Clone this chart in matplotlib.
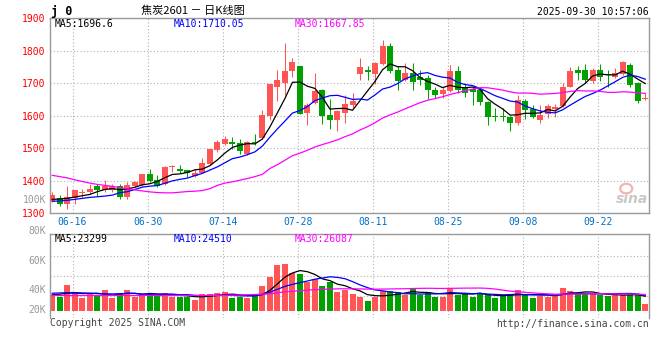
import numpy as np
import pandas as pd
import matplotlib
matplotlib.use('Agg')
import matplotlib.pyplot as plt
from matplotlib.patches import Ellipse

# ---------------- data ----------------
dates = list(pd.bdate_range('2025-06-11', '2025-09-30').strftime('%m-%d'))
tick_labels = ['06-16', '06-30', '07-14', '07-28', '08-11', '08-25', '09-08', '09-22']

opens = [1338, 1345, 1329, 1345, 1361, 1366, 1383, 1371, 1371, 1383,
         1348, 1383, 1386, 1420, 1402, 1389, 1441, 1436, 1432, 1415,
         1424, 1451, 1494, 1512, 1519, 1515, 1482, 1518, 1530, 1597,
         1687, 1701, 1738, 1751, 1609, 1640, 1679, 1602, 1585, 1609,
         1632, 1727, 1741, 1728, 1758, 1814, 1740, 1708, 1730, 1720,
         1715, 1679, 1667, 1674, 1737, 1684, 1681, 1679, 1640, 1599,
         1599, 1594, 1578, 1645, 1620, 1587, 1606, 1620, 1628, 1689,
         1741, 1740, 1705, 1741, 1728, 1720, 1728, 1756, 1701, 1650]
highs = [1364, 1355, 1384, 1372, 1373, 1389, 1389, 1402, 1389, 1389,
         1395, 1398, 1421, 1436, 1417, 1445, 1448, 1448, 1432, 1436,
         1468, 1498, 1525, 1536, 1533, 1527, 1521, 1543, 1617, 1698,
         1739, 1822, 1778, 1752, 1640, 1730, 1681, 1650, 1617, 1664,
         1669, 1776, 1753, 1765, 1833, 1823, 1751, 1761, 1761, 1740,
         1725, 1689, 1687, 1756, 1751, 1700, 1687, 1684, 1646, 1622,
         1622, 1599, 1664, 1650, 1633, 1633, 1636, 1636, 1701, 1749,
         1751, 1758, 1745, 1758, 1741, 1746, 1769, 1761, 1702, 1669]
lows = [1333, 1322, 1311, 1327, 1350, 1358, 1352, 1366, 1366, 1342,
        1342, 1380, 1384, 1396, 1381, 1386, 1425, 1422, 1410, 1412,
        1422, 1448, 1489, 1509, 1498, 1482, 1480, 1509, 1527, 1585,
        1646, 1664, 1720, 1604, 1571, 1636, 1574, 1558, 1551, 1576,
        1622, 1710, 1710, 1697, 1756, 1730, 1677, 1705, 1679, 1694,
        1650, 1653, 1653, 1671, 1669, 1658, 1633, 1633, 1571, 1584,
        1584, 1551, 1571, 1589, 1592, 1576, 1592, 1596, 1626, 1687,
        1708, 1700, 1701, 1705, 1689, 1715, 1725, 1689, 1640, 1649]
closes = [1355, 1328, 1349, 1370, 1364, 1374, 1371, 1383, 1383, 1348,
          1386, 1396, 1420, 1400, 1384, 1443, 1446, 1429, 1422, 1424,
          1455, 1498, 1518, 1527, 1511, 1492, 1519, 1515, 1602, 1697,
          1710, 1738, 1764, 1605, 1633, 1676, 1599, 1585, 1614, 1636,
          1646, 1748, 1733, 1763, 1814, 1736, 1705, 1732, 1703, 1708,
          1677, 1662, 1679, 1738, 1679, 1669, 1673, 1643, 1594, 1595,
          1596, 1578, 1648, 1617, 1595, 1602, 1630, 1626, 1689, 1738,
          1732, 1708, 1741, 1720, 1724, 1732, 1764, 1694, 1646, 1655]
volumes = [25300, 22600, 41100, 28000, 21000, 26400, 23700, 33200, 21000, 28900,
           33200, 22600, 26900, 26900, 24200, 28000, 22600, 22600, 22600, 17400,
           26900, 26900, 28400, 30000, 21000, 21600, 21000, 26900, 39500, 54200,
           72700, 74200, 59600, 58500, 45300, 50600, 39500, 45800, 30500, 33200,
           26900, 22600, 15800, 22600, 31600, 31600, 30500, 25300, 34800, 25300,
           30500, 22600, 22600, 36800, 25300, 27300, 22600, 28900, 25300, 20100,
           24200, 25300, 33200, 26400, 21000, 24200, 22600, 26900, 36800, 31600,
           26400, 28900, 26400, 25300, 24200, 24800, 24800, 28400, 26900, 11400]

# moving-average values before enough history exists
ma5_head = [1342, 1343, 1345, 1349]
ma10_head = [1336, 1337, 1339, 1342, 1345, 1348, 1350, 1352, 1355]
ma30_head = [1416, 1412, 1408, 1402, 1397, 1392, 1388, 1385, 1382, 1378,
             1375, 1371, 1368, 1365, 1363, 1362, 1362, 1364, 1366, 1367,
             1369, 1375, 1385, 1392, 1396, 1401, 1406, 1412, 1419]
vma5_head = [25500, 26500, 28000, 28500]
vma10_head = [28000, 28500, 29000, 29000, 28500, 28000, 27500, 27200, 27000]
vma30_head = [24500] * 23 + [24700, 25000, 25300, 25700, 26100, 26600]

price_ticks = [1300, 1400, 1500, 1600, 1700, 1800, 1900]
vol_tick_labels = ['20K', '40K', '60K', '80K', '100K']
ma_legend = ['MA5:1696.6', 'MA10:1710.05', 'MA30:1667.85']
vma_legend = ['MA5:23299', 'MA10:24510', 'MA30:26087']

# ---------------- helpers ----------------
def moving(values, n, head):
    s = pd.Series(values, dtype=float).rolling(n).mean().to_numpy()
    s[:len(head)] = head
    return s

RED = '#ff5555'
GREEN = '#00a000'
GRID = '#b0b0b0'
SPINE = '#999999'
MONO = 'DejaVu Sans Mono'
ma_colors = ['#000000', '#0000ff', '#ff00ff']

x = np.arange(len(closes))
o = np.array(opens, float); c = np.array(closes, float)
h = np.array(highs, float); l = np.array(lows, float)
up = c >= o
cols = np.where(up, RED, GREEN)
vol = np.array(volumes, float)

W, H = 660, 360
fig = plt.figure(figsize=(6.6, 3.6), dpi=100)
fig.patch.set_facecolor('white')
ax = fig.add_axes([50 / W, (H - 213) / H, 599 / W, 195 / H])
axv = fig.add_axes([50 / W, (H - 318) / H, 599 / W, 84 / H])

tick_idx = [dates.index(t) for t in tick_labels]
grid_x = [i - 0.3 for i in tick_idx]

for a in (ax, axv):
    a.set_xlim(-0.3, 79.5)
    for s in a.spines.values():
        s.set_color(SPINE)
        s.set_linewidth(1.0)
    a.tick_params(length=0)
    for gx in grid_x:
        a.axvline(gx, color=GRID, lw=0.8, ls=(0, (1, 2)), zorder=0)
axv.spines['bottom'].set_visible(False)

# ---------------- price panel ----------------
ax.set_ylim(1300, 1900)
for p in price_ticks[1:-1]:
    ax.axhline(p, color=GRID, lw=0.8, ls=(0, (1, 2)), zorder=0)
ax.vlines(x, l, h, colors=cols, lw=0.75, zorder=2)
body = np.maximum(np.abs(c - o), 1.5)
ax.bar(x, body, bottom=np.minimum(o, c), width=0.8, color=cols, lw=0, zorder=3)

for n, head, col in zip((5, 10, 30), (ma5_head, ma10_head, ma30_head), ma_colors):
    ax.plot(x, moving(closes, n, head), color=col, lw=0.9, zorder=4)

ax.set_yticks(price_ticks)
ax.set_yticklabels([str(p) for p in price_ticks], color='#ff0000',
                   fontsize=7, family=MONO)
ax.set_xticks(grid_x)
ax.set_xticklabels(tick_labels, color='#0070c8', fontsize=7, family=MONO)
ax.tick_params(axis='x', pad=3)
ax.tick_params(axis='y', pad=3)

for txt, col, xp in zip(ma_legend, ma_colors, (55, 174, 295)):
    ax.text((xp - 50) / 599, (213 - 24) / 195, txt, transform=ax.transAxes,
            color=col, fontsize=7, family=MONO, va='center', ha='left')

# sina watermark
ax.text(0.998, 0.035, 'sina', transform=ax.transAxes, ha='right', va='bottom',
        fontsize=10, style='italic', weight='bold', color='#c8c8c8', zorder=1)
ax.add_patch(Ellipse((0.962, 0.125), 0.02, 0.05, transform=ax.transAxes,
                     fc='none', ec='#f2b4b4', lw=1.6, zorder=1))

# ---------------- volume panel ----------------
axv.set_ylim(-11060, 121600)
axv.set_yticks([])
axv.set_xticks([])
for f in (0.262, 0.5, 0.738):
    axv.plot([0, 1], [f, f], transform=axv.transAxes, color=GRID, lw=0.8,
             ls=(0, (1, 2)), zorder=0)
axv.bar(x, vol, bottom=0, width=0.8, color=cols, lw=0, zorder=2)
for n, head, col in zip((5, 10, 30), (vma5_head, vma10_head, vma30_head), ma_colors):
    axv.plot(x, moving(volumes, n, head), color=col, lw=0.9, zorder=3)

for lab, f in zip(vol_tick_labels, (0.095, 0.333, 0.679, 1.036, 1.405)):
    axv.text(-0.0067, f, lab, transform=axv.transAxes, ha='right', va='center',
             color='#999999', fontsize=7, family=MONO, clip_on=False)

for txt, col, xp in zip(vma_legend, ma_colors, (55, 174, 295)):
    axv.text((xp - 50) / 599, (318 - 238.5) / 84, txt, transform=axv.transAxes,
             color=col, fontsize=7, family=MONO, va='center', ha='left')

# ---------------- header / footer ----------------
fig.text(51 / W, 1 - 11 / H, 'j 0', fontsize=8.5, weight='bold', family=MONO,
         va='center', ha='left')
fig.text(141 / W, 1 - 11 / H, '焦炭2601 － 日K线图', fontsize=8,
         family=['Noto Sans CJK SC', 'DejaVu Sans'], va='center', ha='left')
fig.text(649 / W, 1 - 12 / H, '2025-09-30 10:57:06', fontsize=7, family=MONO,
         va='center', ha='right')
fig.text(50 / W, 1 - 323.5 / H, 'Copyright 2025 SINA.COM', fontsize=7,
         family=MONO, va='center', ha='left', color='#444444')
fig.text(649 / W, 1 - 324 / H, 'http://finance.sina.com.cn', fontsize=7,
         family=MONO, va='center', ha='right', color='#444444')

fig.savefig('out.png', dpi=100, facecolor='white')
